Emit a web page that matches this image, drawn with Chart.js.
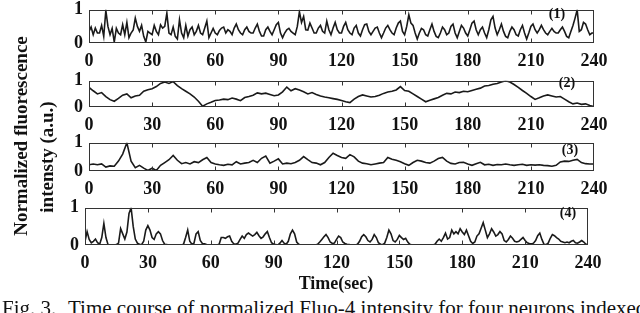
<!DOCTYPE html>
<html>
<head>
<meta charset="utf-8">
<script src="https://cdn.jsdelivr.net/npm/chart.js@4.4.0/dist/chart.umd.min.js"></script>
<style>
  html, body { margin: 0; padding: 0; background: #fff; }
  body { width: 640px; height: 313px; position: relative; overflow: hidden; font-family: "Liberation Serif", "DejaVu Serif", serif; color: #111; }
  canvas { position: absolute; left: 0; }
  .txt { position: absolute; white-space: nowrap; font-weight: bold; font-size: 18px; line-height: 1; transform: translate(-50%, -50%); }
  .ylab { font-size: 19px; transform: translate(-50%, -50%) rotate(-90deg); }
  .tag { font-size: 14px; }
  .cap { position: absolute; top: 298px; font-size: 21px; line-height: 21px; white-space: nowrap; }
</style>
</head>
<body>
<canvas id="c1" width="640" height="80" style="top:-7px"></canvas>
<canvas id="c2" width="640" height="73" style="top:64px"></canvas>
<canvas id="c3" width="640" height="75" style="top:126px"></canvas>
<canvas id="c4" width="640" height="84" style="top:191px"></canvas>

<div class="txt ylab" style="left:20px;top:136px">Normalized fluorescence</div>
<div class="txt ylab" style="left:46px;top:157px">intensty (a.u.)</div>
<div class="txt" style="left:336px;top:283px">Time(sec)</div>
<div class="txt tag" style="left:557px;top:14px">(1)</div>
<div class="txt tag" style="left:567px;top:83px">(2)</div>
<div class="txt tag" style="left:570px;top:150px">(3)</div>
<div class="txt tag" style="left:568px;top:213px">(4)</div>
<div class="cap" style="left:2px">Fig. 3.</div>
<div class="cap" style="left:68px">Time course of normalized Fluo-4 intensity for four neurons indexed</div>

<script>
// x axis ticks (seconds) and y ticks
const xTickValues = [0, 30, 60, 90, 120, 150, 180, 210, 240];
const yTickValues = [0, 1];

// neuron 1, one sample per second
const neuron1 = [
  0.35,0.48,0.25,0.45,0.30,0.30,0.53,0.20,0.98,0.50,
  0.25,0.44,0.03,0.44,0.30,0.25,0.55,0.25,0.62,0.16,
  0.30,0.39,0.75,0.50,0.35,0.53,0.20,0.03,0.35,0.30,
  0.25,0.53,0.35,0.25,0.55,0.45,0.50,0.90,0.30,0.25,
  0.48,0.20,0.12,0.70,0.30,0.16,0.53,0.21,0.40,0.48,
  0.25,0.35,0.53,0.30,0.25,0.45,0.66,0.16,0.30,0.44,
  0.30,0.25,0.38,0.45,0.48,0.30,0.40,0.35,0.25,0.45,
  0.57,0.40,0.30,0.25,0.40,0.48,0.35,0.30,0.30,0.45,
  0.57,0.35,0.21,0.21,0.40,0.48,0.35,0.25,0.40,0.55,
  0.62,0.30,0.16,0.30,0.40,0.44,0.35,0.30,0.25,0.50,
  0.94,0.62,0.80,0.40,0.39,0.60,0.45,0.30,0.30,0.45,
  0.53,0.35,0.30,0.66,0.40,0.25,0.45,0.62,0.40,0.30,
  0.30,0.50,0.62,0.40,0.30,0.25,0.45,0.53,0.30,0.21,
  0.40,0.55,0.57,0.35,0.25,0.35,0.45,0.48,0.30,0.16,
  0.30,0.45,0.53,0.40,0.30,0.25,0.45,0.60,0.66,0.35,
  0.25,0.50,0.85,0.60,0.53,0.30,0.12,0.30,0.44,0.40,
  0.25,0.21,0.40,0.57,0.35,0.20,0.16,0.30,0.48,0.40,
  0.25,0.30,0.50,0.57,0.30,0.16,0.35,0.53,0.45,0.30,
  0.21,0.40,0.60,0.66,0.40,0.25,0.40,0.48,0.30,0.16,
  0.40,0.70,0.80,0.45,0.25,0.40,0.57,0.35,0.20,0.16,
  0.35,0.48,0.40,0.25,0.21,0.40,0.53,0.30,0.12,0.30,
  0.50,0.57,0.40,0.30,0.40,0.53,0.40,0.30,0.25,0.35,
  0.44,0.35,0.30,0.30,0.40,0.48,0.35,0.20,0.16,0.35,
  0.53,0.75,1.00,0.35,0.40,0.62,0.57,0.40,0.25,0.30,
  0.30
];

// neuron 2, every 2 s
const neuron2 = [
  0.75,0.62,0.50,0.55,0.40,0.28,0.22,0.33,0.45,0.50,
  0.35,0.42,0.45,0.60,0.66,0.70,0.78,0.90,0.95,0.90,
  0.97,0.82,0.70,0.60,0.50,0.38,0.22,0.03,0.12,0.18,
  0.25,0.27,0.30,0.28,0.34,0.30,0.24,0.36,0.40,0.45,
  0.54,0.50,0.53,0.48,0.43,0.46,0.58,0.76,0.62,0.70,
  0.65,0.58,0.50,0.55,0.48,0.42,0.38,0.35,0.32,0.29,
  0.25,0.20,0.17,0.30,0.40,0.46,0.42,0.38,0.40,0.45,
  0.52,0.57,0.60,0.65,0.78,0.63,0.60,0.50,0.40,0.30,
  0.20,0.26,0.31,0.36,0.45,0.52,0.50,0.57,0.55,0.60,
  0.58,0.63,0.68,0.72,0.80,0.82,0.87,0.90,0.95,1.00,
  0.95,0.86,0.75,0.63,0.52,0.40,0.29,0.35,0.42,0.46,
  0.42,0.38,0.40,0.30,0.20,0.12,0.15,0.10,0.12,0.06,
  0.02
];

// neuron 3, every 2 s
const neuron3 = [
  0.22,0.25,0.22,0.25,0.14,0.18,0.17,0.35,0.60,1.00,
  0.35,0.12,0.20,0.10,0.02,0.10,0.02,0.20,0.30,0.40,
  0.55,0.38,0.26,0.30,0.25,0.33,0.30,0.40,0.48,0.30,
  0.25,0.22,0.20,0.24,0.22,0.33,0.25,0.28,0.30,0.38,
  0.30,0.45,0.53,0.28,0.35,0.43,0.25,0.28,0.26,0.30,
  0.38,0.51,0.40,0.30,0.28,0.22,0.30,0.48,0.63,0.55,
  0.48,0.45,0.58,0.50,0.35,0.28,0.26,0.22,0.25,0.28,
  0.30,0.48,0.42,0.38,0.33,0.26,0.20,0.30,0.38,0.35,
  0.30,0.28,0.35,0.44,0.48,0.35,0.27,0.25,0.30,0.31,
  0.25,0.20,0.26,0.31,0.22,0.24,0.20,0.23,0.22,0.25,
  0.22,0.20,0.22,0.24,0.20,0.22,0.21,0.22,0.20,0.19,
  0.17,0.20,0.32,0.35,0.34,0.38,0.41,0.30,0.26,0.25,
  0.25
];

// neuron 4, one sample per second
const neuron4 = [
  0.10,0.36,0.15,0.06,0.10,0.16,0.06,0.02,0.20,0.58,
  0.20,0.01,0.00,0.00,0.00,0.01,0.05,0.44,0.30,0.16,
  0.35,0.85,1.00,0.50,0.16,0.05,0.02,0.01,0.10,0.40,
  0.52,0.40,0.20,0.15,0.30,0.36,0.30,0.12,0.02,0.01,
  0.00,0.00,0.00,0.00,0.00,0.00,0.00,0.02,0.20,0.40,
  0.10,0.02,0.05,0.30,0.36,0.12,0.04,0.03,0.01,0.00,
  0.00,0.00,0.00,0.00,0.02,0.20,0.20,0.18,0.22,0.24,
  0.10,0.03,0.02,0.05,0.15,0.24,0.18,0.28,0.32,0.28,
  0.24,0.28,0.34,0.25,0.18,0.22,0.30,0.36,0.20,0.06,
  0.02,0.01,0.00,0.05,0.12,0.05,0.02,0.10,0.30,0.40,
  0.30,0.08,0.02,0.00,0.00,0.00,0.00,0.00,0.00,0.00,
  0.00,0.02,0.08,0.15,0.22,0.28,0.20,0.08,0.04,0.05,
  0.15,0.24,0.20,0.08,0.04,0.02,0.01,0.00,0.00,0.00,
  0.02,0.10,0.22,0.28,0.22,0.12,0.08,0.15,0.28,0.20,
  0.06,0.02,0.01,0.05,0.20,0.40,0.30,0.12,0.08,0.15,
  0.26,0.20,0.15,0.18,0.08,0.02,0.00,0.00,0.00,0.00,
  0.00,0.00,0.00,0.00,0.00,0.00,0.00,0.02,0.10,0.16,
  0.10,0.20,0.32,0.16,0.20,0.40,0.30,0.36,0.30,0.44,
  0.35,0.28,0.40,0.25,0.10,0.04,0.08,0.24,0.30,0.45,
  0.60,0.40,0.20,0.30,0.44,0.35,0.24,0.28,0.36,0.30,
  0.12,0.08,0.15,0.24,0.18,0.10,0.08,0.10,0.15,0.20,
  0.12,0.06,0.04,0.03,0.05,0.12,0.25,0.32,0.15,0.02,
  0.01,0.05,0.18,0.28,0.25,0.20,0.16,0.10,0.08,0.06,
  0.08,0.06,0.10,0.12,0.06,0.05,0.08,0.12,0.08,0.02,
  0.02
];

const tickFont = { family: "'Liberation Serif', serif", size: 18, weight: 'bold' };

// box around the plot + small inward ticks like matlab
const framePlugin = {
  id: 'frame',
  afterDatasetsDraw(chart) {
    const { ctx, chartArea: a, scales } = chart;
    ctx.save();
    ctx.strokeStyle = '#333';
    ctx.lineWidth = 1;
    const l = Math.round(a.left) + 0.5, r = Math.round(a.right) - 0.5;
    const t = Math.round(a.top) + 0.5, b = Math.round(a.bottom) - 0.5;
    ctx.strokeRect(l, t, r - l, b - t);
    ctx.beginPath();
    xTickValues.slice(1, -1).forEach(v => {
      const px = Math.round(scales.x.getPixelForValue(v)) + 0.5;
      ctx.moveTo(px, t); ctx.lineTo(px, t + 4);
      ctx.moveTo(px, b); ctx.lineTo(px, b - 4);
    });
    ctx.stroke();
    ctx.restore();
  }
};

function makePanel(id, values, step, left, right) {
  const points = values.map((v, i) => ({ x: i * step, y: v }));
  return new Chart(document.getElementById(id), {
    type: 'line',
    data: {
      datasets: [{
        data: points,
        borderColor: '#1a1a1a',
        borderWidth: 1.6,
        pointRadius: 0,
        tension: 0,
        fill: false
      }]
    },
    options: {
      responsive: false,
      animation: false,
      events: [],
      layout: { padding: { top: 12, right: 640 - right, left: 0, bottom: 0 } },
      plugins: { legend: { display: false }, tooltip: { enabled: false } },
      scales: {
        x: {
          type: 'linear', min: 0, max: 240,
          afterBuildTicks: s => { s.ticks = xTickValues.map(v => ({ value: v })); },
          afterFit: s => { s.height = 30; },
          grid: { display: false, drawTicks: false },
          border: { display: false },
          ticks: { padding: 8, font: tickFont, color: '#111', maxRotation: 0, autoSkip: false }
        },
        y: {
          min: 0, max: 1,
          afterBuildTicks: s => { s.ticks = yTickValues.map(v => ({ value: v })); },
          afterFit: s => { s.width = left; },
          grid: { display: false, drawTicks: false },
          border: { display: false },
          ticks: { padding: 6, font: tickFont, color: '#111' }
        }
      }
    },
    plugins: [framePlugin]
  });
}

makePanel('c1', neuron1, 1, 89, 594);
makePanel('c2', neuron2, 2, 89, 594);
makePanel('c3', neuron3, 2, 89, 594);
makePanel('c4', neuron4, 1, 85, 588);
</script>
</body>
</html>
